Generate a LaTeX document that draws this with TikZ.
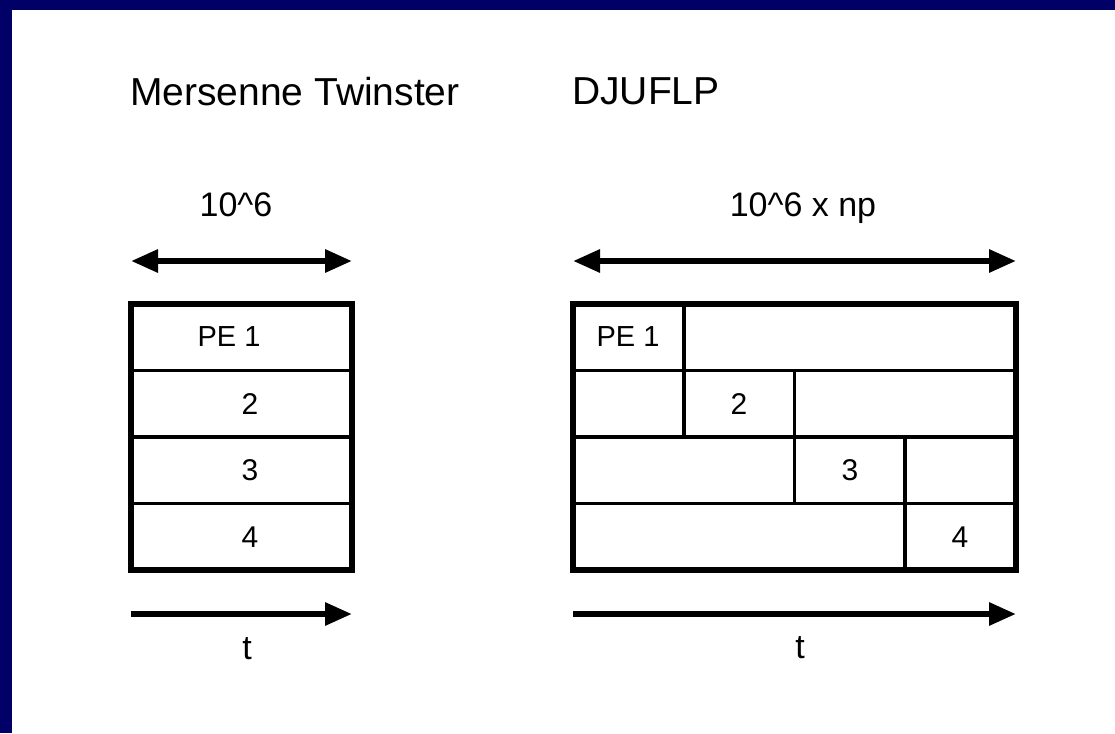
\documentclass[tikz,border=0pt]{standalone}
\usepackage{fontspec}
\setmainfont{Liberation Sans}
\usetikzlibrary{arrows.meta}
\definecolor{navy}{RGB}{0,0,102}
\begin{document}
\begin{tikzpicture}[x=1pt,y=-1pt,
  arr/.style={line width=6pt, -{Triangle[length=27pt,width=22pt]}},
  darr/.style={line width=6pt, {Triangle[length=27pt,width=22pt]}-{Triangle[length=27pt,width=22pt]}},
  outerline/.style={line width=6pt},
  innerline/.style={line width=3.5pt},
  titletext/.style={font=\fontsize{39}{42}\selectfont, anchor=base west, inner sep=0pt},
  dimtext/.style={font=\fontsize{34}{38}\selectfont, anchor=base, inner sep=0pt},
  petext/.style={font=\fontsize{29}{32}\selectfont, inner sep=0pt},
  celltext/.style={font=\fontsize{30}{34}\selectfont, inner sep=0pt},
]
\useasboundingbox (0,0) rectangle (1115,733);
\fill[white] (0,0) rectangle (1115,733);
\fill[navy] (0,0) rectangle (1115,10);
\fill[navy] (0,0) rectangle (12,733);

% titles
\node[titletext] (mt) at (130,106) {Mersenne Twinster};
\node[titletext] (dj) at (572,105) {DJUFLP};

% dimension labels
\node[dimtext] (d1) at (236,216) {10\^{}6};
\node[dimtext] (d2) at (803,216) {10\^{}6 x np};

% top double arrows
\coordinate (a1l) at (131,261);
\coordinate (a1r) at (352,261);
\coordinate (a2l) at (573,261);
\coordinate (a2r) at (1016,261);
\draw[darr] (a1l) -- (a1r);
\draw[darr] (a2l) -- (a2r);

% left box
\coordinate (L1) at (131,304);
\coordinate (L2) at (352,570);
\draw[innerline] (131,370.5) -- (352,370.5);
\draw[innerline] (131,437) -- (352,437);
\draw[innerline] (131,503.5) -- (352,503.5);
\draw[outerline] (L1) rectangle (L2);
\node[petext] (lp1) at (229,337) {PE 1};
\node[celltext] (lp2) at (250,404) {2};
\node[celltext] (lp3) at (250,470) {3};
\node[celltext] (lp4) at (250,537) {4};

% right box
\coordinate (R1) at (573,304);
\coordinate (R2) at (1016,570);
\draw[innerline] (573,370.5) -- (1016,370.5);
\draw[innerline] (573,437) -- (1016,437);
\draw[innerline] (573,503.5) -- (1016,503.5);
\draw[innerline] (684,304) -- (684,437);
\draw[innerline] (794.5,370.5) -- (794.5,503.5);
\draw[innerline] (905,437) -- (905,570);
\draw[outerline] (R1) rectangle (R2);
\node[petext] (rp1) at (628,337) {PE 1};
\node[celltext] (rp2) at (739,404) {2};
\node[celltext] (rp3) at (850,470) {3};
\node[celltext] (rp4) at (960,537) {4};

% bottom time arrows
\coordinate (t1l) at (131,614);
\coordinate (t1r) at (352,614);
\coordinate (t2l) at (573,614);
\coordinate (t2r) at (1016,614);
\draw[arr] (t1l) -- (t1r);
\draw[arr] (t2l) -- (t2r);
\node[dimtext] (tl) at (247,659) {t};
\node[dimtext] (tr) at (800,658) {t};
\end{tikzpicture}
\end{document}
